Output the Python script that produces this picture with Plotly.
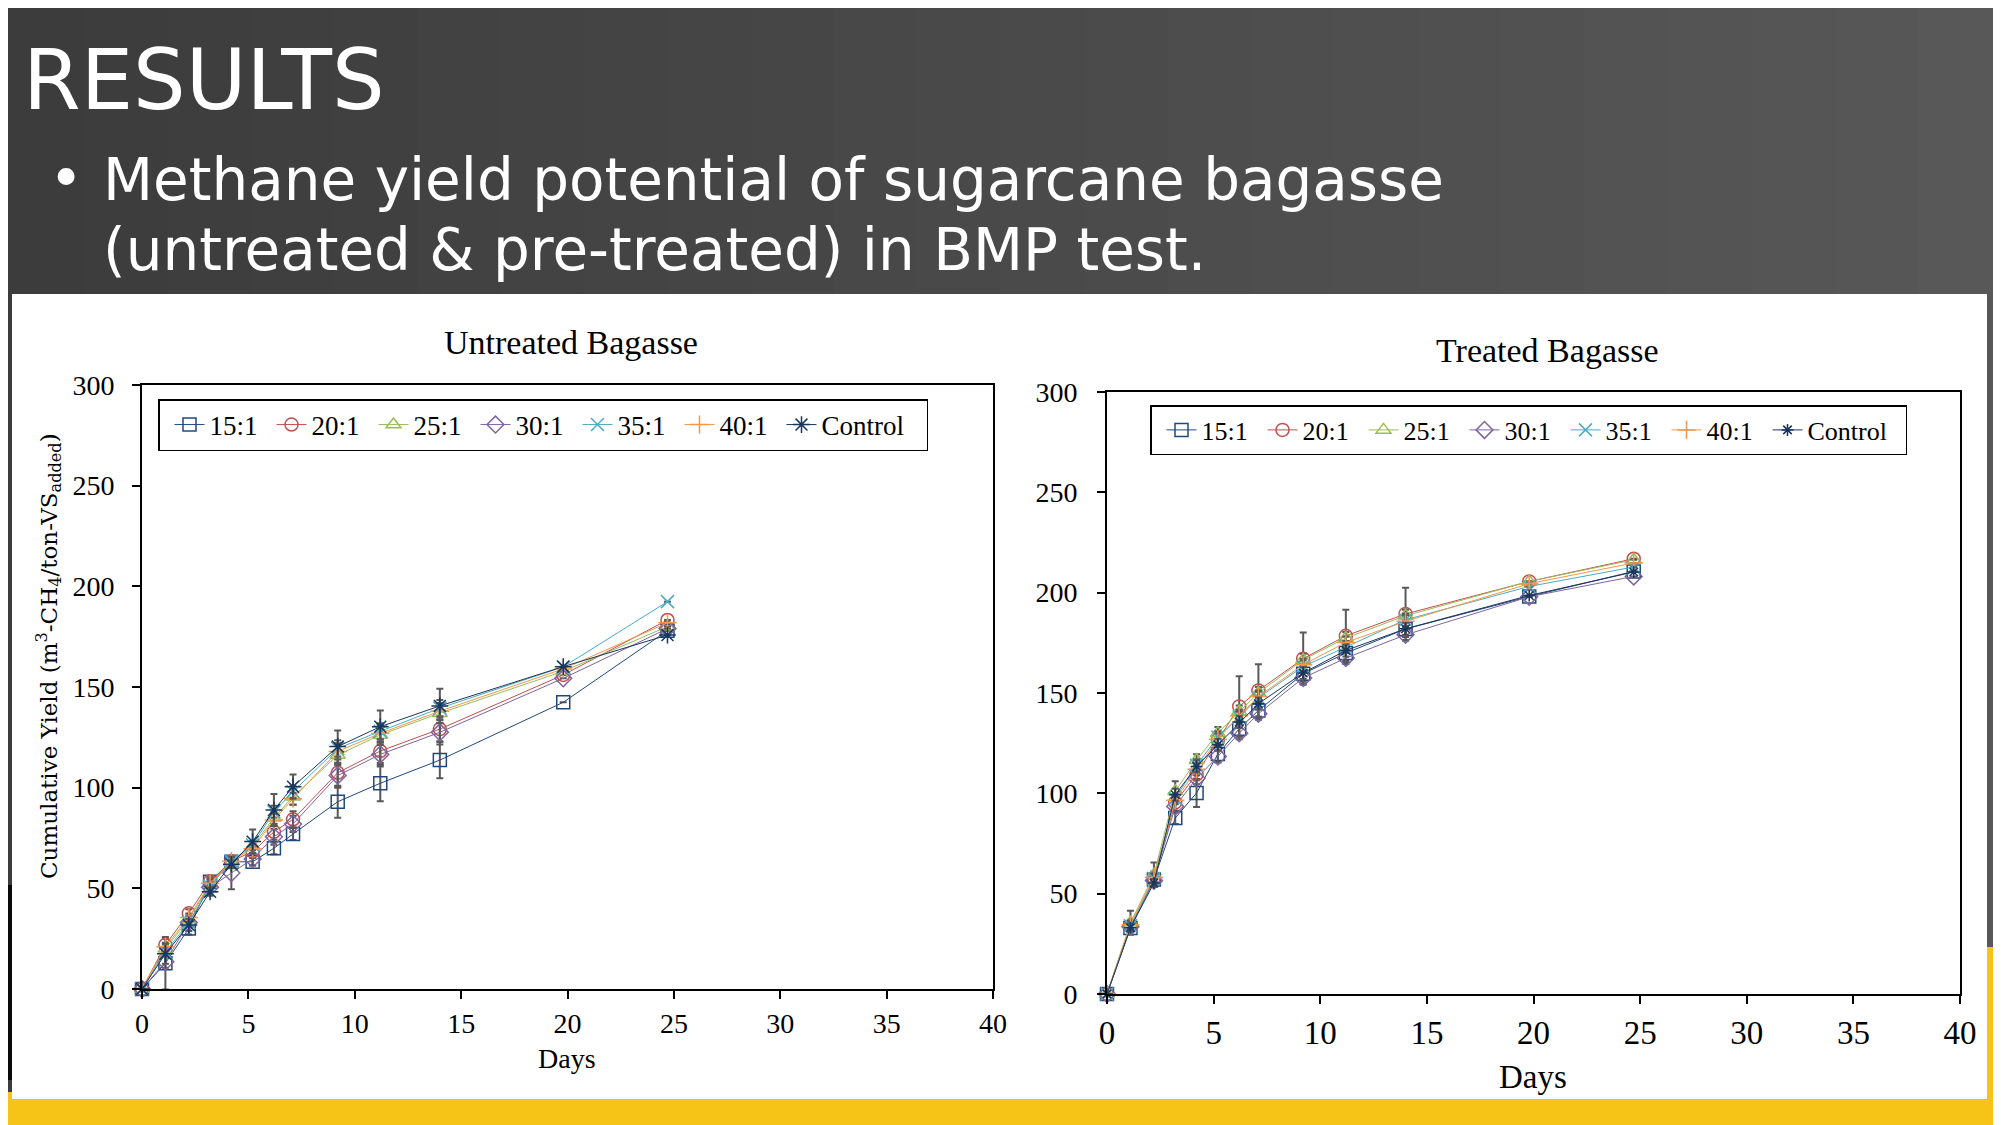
import plotly.graph_objects as go

W, H = 2001, 1125
OFF = 8  # page body margin that the browser adds around the figure

# ---- data ----
days = [0, 1.1, 2.2, 3.2, 4.2, 5.2, 6.2, 7.1, 9.2, 11.2, 14.0, 19.8, 24.7]
series_names = ["15:1", "20:1", "25:1", "30:1", "35:1", "40:1", "Control"]

untreated = {
    "15:1":    [0, 12.8, 30.1, 53.3, 63.2, 63.2, 69.9, 77.0, 93.0, 102.2, 113.7, 142.4, 178.0],
    "20:1":    [0, 21.9, 37.6, 53.5, 63.5, 68.2, 78.1, 84.3, 107.4, 118.2, 129.1, 156.0, 183.3],
    "25:1":    [0, 20.0, 34.5, 52.0, 63.0, 71.0, 85.0, 95.5, 116.2, 126.2, 137.0, 157.8, 180.0],
    "30:1":    [0, 13.5, 33.0, 50.5, 57.6, 64.6, 75.6, 82.0, 106.0, 116.5, 127.5, 154.3, 179.0],
    "35:1":    [0, 18.5, 33.0, 51.0, 63.5, 71.5, 88.0, 98.0, 119.5, 128.0, 139.5, 160.0, 192.4],
    "40:1":    [0, 21.0, 35.5, 52.5, 63.5, 69.7, 84.0, 94.5, 118.0, 127.0, 138.0, 159.0, 181.9],
    "Control": [0, 17.5, 31.8, 48.3, 62.0, 73.2, 88.9, 100.5, 120.4, 130.3, 140.6, 160.1, 175.8],
}
untreated_err = {
    "15:1":    [0, 13, 3, 2, 2, 2, 3, 3, 8, 9, 9, 0, 0],
    "20:1":    [0, 3, 2, 2, 2, 3, 4, 4, 7, 6, 6, 0, 0],
    "25:1":    [0, 2, 2, 2, 2, 2, 3, 4, 5, 5, 5, 0, 0],
    "30:1":    [0, 3, 2, 2, 8, 3, 4, 4, 6, 6, 6, 0, 0],
    "35:1":    [0, 2, 2, 2, 2, 2, 3, 3, 4, 4, 4, 0, 0],
    "40:1":    [0, 2, 2, 2, 2, 2, 3, 3, 4, 4, 4, 0, 0],
    "Control": [0, 5, 3, 2, 2, 6, 8, 6, 8, 8, 8.5, 0, 0],
}

treated = {
    "15:1":    [0, 32.9, 57.0, 87.7, 100.2, 119.6, 132.2, 141.3, 159.6, 169.9, 181.9, 198.1, 210.6],
    "20:1":    [0, 34.0, 58.0, 95.5, 109.5, 126.7, 143.3, 151.3, 167.1, 178.5, 189.4, 205.6, 216.9],
    "25:1":    [0, 35.5, 59.5, 101.0, 116.5, 130.0, 140.8, 150.0, 166.6, 177.4, 188.5, 205.6, 216.4],
    "30:1":    [0, 33.5, 56.5, 93.5, 107.5, 118.4, 130.0, 139.7, 157.5, 167.4, 179.0, 198.0, 208.1],
    "35:1":    [0, 34.0, 57.5, 97.5, 114.0, 128.0, 138.0, 147.6, 163.2, 172.9, 186.5, 203.1, 212.8],
    "40:1":    [0, 34.5, 58.0, 96.5, 112.0, 127.0, 138.7, 148.3, 164.1, 175.2, 185.7, 204.5, 214.8],
    "Control": [0, 33.0, 55.3, 99.3, 113.4, 124.2, 135.5, 144.7, 160.0, 171.2, 182.0, 198.6, 210.3],
}
treated_err = {
    "15:1":    [0, 2, 2, 3, 7, 4, 4, 4, 4, 4, 4, 0, 0],
    "20:1":    [0, 3, 3, 4, 3, 3, 15, 13, 13, 13, 13, 0, 0],
    "25:1":    [0, 6, 6, 5, 3, 3, 3, 3, 3, 3, 3, 0, 0],
    "30:1":    [0, 2, 2, 3, 3, 3, 3, 3, 3, 3, 3, 0, 0],
    "35:1":    [0, 2, 2, 2, 3, 3, 3, 3, 3, 3, 3, 0, 0],
    "40:1":    [0, 2, 2, 2, 3, 3, 3, 3, 3, 3, 3, 0, 0],
    "Control": [0, 2, 2, 3, 3, 3, 3, 3, 3, 3, 3, 0, 0],
}

colors = {"15:1": "#1F497D", "20:1": "#C0504D", "25:1": "#9BBB59", "30:1": "#8064A2",
          "35:1": "#4BACC6", "40:1": "#F79646", "Control": "#17375E"}
symbols = {"15:1": "square-open", "20:1": "circle-open", "25:1": "triangle-up-open",
           "30:1": "diamond-open", "35:1": "x-thin-open", "40:1": "cross-thin-open",
           "Control": "asterisk-open"}


def px(x):
    return (x - OFF) / W


def py(y):
    return 1 - (y - OFF) / H


fig = go.Figure()

# untreated (left)
for name in series_names:
    fig.add_trace(go.Scatter(
        x=days, y=untreated[name], name=name, mode='lines+markers',
        xaxis='x', yaxis='y', legend='legend', cliponaxis=False,
        line=dict(color=colors[name], width=1),
        marker=dict(symbol=symbols[name], size=13 if name != "Control" else 14,
                    color=colors[name], line=dict(color=colors[name], width=1.5)),
        error_y=dict(type='data', array=untreated_err[name], color='#595959',
                     thickness=2, width=3.5),
        legendwidth=100 if name == "Control" else None,
    ))

# treated (right)
for name in series_names:
    fig.add_trace(go.Scatter(
        x=days, y=treated[name], name=name, mode='lines+markers',
        xaxis='x2', yaxis='y2', legend='legend2', cliponaxis=False,
        line=dict(color=colors[name], width=1),
        marker=dict(symbol=symbols[name], size=13 if name != "Control" else 10,
                    color=colors[name], line=dict(color=colors[name], width=1.5)),
        error_y=dict(type='data', array=treated_err[name], color='#595959',
                     thickness=2, width=3.5),
        legendwidth=93 if name == "Control" else None,
    ))

serif = "Liberation Serif"
axis_common = dict(showline=True, mirror=True, linecolor='black', linewidth=2,
                   ticks='outside', ticklen=8, tickwidth=1.5, tickcolor='black',
                   showgrid=False, zeroline=False, automargin=False)

# background shapes
shapes = []
n_bands = 24
for i in range(n_bands):
    t = i / (n_bands - 1)
    c = int(0x3c + t * (0x58 - 0x3c))
    shapes.append(dict(type='rect', xref='paper', yref='paper', layer='below',
                       x0=px(i * W / n_bands), x1=px((i + 1) * W / n_bands + 2),
                       y0=py(H + OFF), y1=py(0),
                       fillcolor=f'rgb({c},{c},{c})', line=dict(width=0)))
shapes += [
    dict(type='rect', xref='paper', yref='paper', layer='below',
         x0=px(0), x1=px(W + OFF), y0=py(H + OFF), y1=py(1092), fillcolor='#F6C416', line=dict(width=0)),
    dict(type='rect', xref='paper', yref='paper', layer='below',
         x0=px(1985), x1=px(W + OFF), y0=py(H + OFF), y1=py(947), fillcolor='#F6C416', line=dict(width=0)),
    dict(type='rect', xref='paper', yref='paper', layer='below',
         x0=px(0), x1=px(12), y0=py(1080), y1=py(885), fillcolor='#0a0a0a', line=dict(width=0)),
    dict(type='rect', xref='paper', yref='paper', layer='below',
         x0=px(12), x1=px(1987), y0=py(1099), y1=py(294), fillcolor='white', line=dict(width=0)),
]

annotations = [
    dict(text="RESULTS", x=px(21), y=py(80), xanchor='left', yanchor='middle',
         font=dict(family="DejaVu Sans", size=83, color='white')),
    dict(text="•", x=px(66), y=py(178), xanchor='center', yanchor='middle',
         font=dict(family="DejaVu Sans", size=58, color='white')),
    dict(text="Methane yield potential of sugarcane bagasse", x=px(101), y=py(180),
         xanchor='left', yanchor='middle', font=dict(family="DejaVu Sans", size=58, color='white')),
    dict(text="(untreated &amp; pre-treated) in BMP test.", x=px(101), y=py(250),
         xanchor='left', yanchor='middle', font=dict(family="DejaVu Sans", size=58, color='white')),
    dict(text="Untreated Bagasse", x=px(571), y=py(342), xanchor='center', yanchor='middle',
         font=dict(family=serif, size=34, color='black')),
    dict(text="Treated Bagasse", x=px(1547), y=py(350), xanchor='center', yanchor='middle',
         font=dict(family=serif, size=34, color='black')),
    dict(text="Days", x=px(567), y=py(1058), xanchor='center', yanchor='middle',
         font=dict(family=serif, size=28, color='black')),
    dict(text="Days", x=px(1533), y=py(1077), xanchor='center', yanchor='middle',
         font=dict(family=serif, size=33, color='black')),
    dict(text="Cumulative Yield (m<sup>3</sup>-CH<sub>4</sub>/ton-VS<sub>added</sub>)",
         x=px(48), y=py(656), xanchor='center', yanchor='middle', textangle=-90,
         font=dict(family="DejaVu Serif", size=23, color='black')),
]
for a in annotations:
    a.update(xref='paper', yref='paper', showarrow=False)

legend_common = dict(orientation='h', xanchor='left', yanchor='top', bgcolor='white',
                     bordercolor='black', borderwidth=1.5, itemwidth=30, indentation=10,
                     entrywidthmode='pixels', xref='paper', yref='paper')

fig.update_layout(
    width=W, height=H,
    margin=dict(l=0, r=0, t=0, b=0, pad=0, autoexpand=False),
    paper_bgcolor='#474747', plot_bgcolor='white',
    showlegend=True,
    xaxis=dict(domain=[px(142), px(993)], range=[0, 40], dtick=5, anchor='y',
               tickfont=dict(family=serif, size=28, color='black'), ticklabelstandoff=0,
               **axis_common),
    yaxis=dict(domain=[py(989), py(385)], range=[0, 300], dtick=50, anchor='x',
               tickfont=dict(family=serif, size=28, color='black'), ticklabelstandoff=12,
               **axis_common),
    xaxis2=dict(domain=[px(1107), px(1960)], range=[0, 40], dtick=5, anchor='y2',
                tickfont=dict(family=serif, size=33, color='black'), ticklabelstandoff=0,
                **axis_common),
    yaxis2=dict(domain=[py(994), py(392)], range=[0, 300], dtick=50, anchor='x2',
                tickfont=dict(family=serif, size=28, color='black'), ticklabelstandoff=14,
                **axis_common),
    legend=dict(x=px(158), y=py(399), entrywidth=47,
                font=dict(family=serif, size=27, color='black'), **legend_common),
    legend2=dict(x=px(1150), y=py(405), entrywidth=46,
                 font=dict(family=serif, size=26, color='black'), **legend_common),
    shapes=shapes,
    annotations=annotations,
)

fig.write_html("out.html")
